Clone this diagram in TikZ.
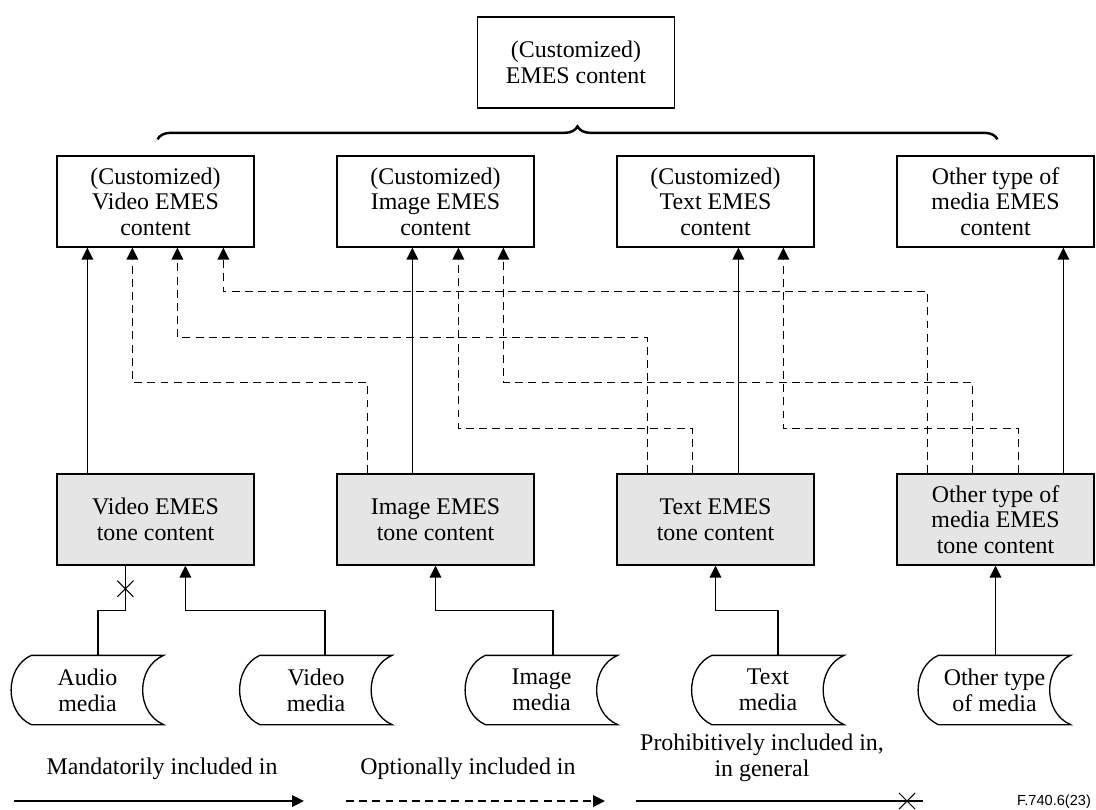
\documentclass[tikz,border=0pt]{standalone}
\usepackage{fontspec}
\setmainfont{Liberation Serif}
\newfontfamily\figfont{Liberation Sans}
\usetikzlibrary{calc,arrows.meta,decorations.pathreplacing,shapes.misc}

\begin{document}
\begin{tikzpicture}[x=0.02cm, y=-0.02cm, line width=0.75pt,
    font=\fontsize{13.6}{14.6}\selectfont,
    cbox/.style={draw, align=center, minimum width=3.94cm, minimum height=1.82cm, inner sep=1pt},
    tbox/.style={cbox, fill=black!10},
    media/.style={align=center, minimum width=3.02cm, minimum height=1.36cm, inner sep=0pt},
    must/.style={-{Triangle[length=6.8pt,width=6.6pt]}},
    opt/.style={must, dash pattern=on 4.5pt off 3pt},
    nox/.style={draw, cross out, minimum size=0.3cm, inner sep=0pt, line width=0.6pt}]
\useasboundingbox (0,0) rectangle (1096,809);

% --- Whole content and brace ---
\node[cbox] (top) at (576,62.5) {(Customized)\\EMES content};
\node[cbox] (vcont) at (155.5,201.5) {(Customized)\\Video EMES\\content};
\node[cbox] (icont) at (435.5,201.5) {(Customized)\\Image EMES\\content};
\node[cbox] (tcont) at (715.5,201.5) {(Customized)\\Text EMES\\content};
\node[cbox] (ocont) at (995.5,201.5) {Other type of\\media EMES\\content};
\draw[decorate, decoration={brace, amplitude=7.4pt}, line width=1.4pt]
    ($(vcont.north)+(2,-16)$) -- ($(ocont.north)+(2,-16)$);

% --- Tone content (grey) ---
\node[tbox] (vtone) at (155.5,519.5) {Video EMES\\tone content};
\node[tbox] (itone) at (435.5,519.5) {Image EMES\\tone content};
\node[tbox] (ttone) at (715.5,519.5) {Text EMES\\tone content};
\node[tbox] (otone) at (995.5,519.5) {Other type of\\media EMES\\tone content};

% --- Media ---
\node[media] (amedia) at (87.5,690) {Audio\\media};
\node[media] (vmedia) at (316,690) {Video\\media};
\node[media] (imedia) at (541.5,690) {Image\\media};
\node[media] (tmedia) at (768,690) {Text\\media};
\node[media] (omedia) at (994.5,690) {Other type\\of media};
\foreach \m in {amedia,vmedia,imedia,tmedia,omedia}
    \draw ($(\m.north west)+(20,0)$) -- (\m.north east)
        .. controls ($(\m.north east)+(-28,12)$) and ($(\m.south east)+(-28,-12)$) .. (\m.south east)
        -- ($(\m.south west)+(20,0)$)
        .. controls ($(\m.south west)+(-7,-12)$) and ($(\m.north west)+(-7,12)$) .. cycle;

% --- Mandatory links ---
\foreach \s/\o in {v/31, i/76, t/122, o/167}
    \draw[must] ($(\s tone.north west)+(\o,0)$) -- ($(\s cont.south west)+(\o,0)$);

% --- Optional links ---
\draw[opt] ($(itone.north west)+(31,0)$) -- ++(0,-91) -| ($(vcont.south west)+(76,0)$);
\draw[opt] ($(ttone.north west)+(31,0)$) -- ++(0,-136) -| ($(vcont.south west)+(121,0)$);
\draw[opt] ($(otone.north west)+(31,0)$) -- ++(0,-182) -| ($(vcont.south west)+(167,0)$);
\draw[opt] ($(ttone.north west)+(76,0)$) -- ++(0,-45) -| ($(icont.south west)+(122,0)$);
\draw[opt] ($(otone.north west)+(76,0)$) -- ++(0,-91) -| ($(icont.south west)+(167,0)$);
\draw[opt] ($(otone.north west)+(122,0)$) -- ++(0,-45) -| ($(tcont.south west)+(167,0)$);

% --- Media into tone content ---
\draw ($(amedia.north)+(10.5,0)$) -- ++(0,-45) -| ($(vtone.south west)+(69,0)$);
\node[nox] (ax) at ($(vtone.south west)+(69,23)$) {};
\draw[must] ($(vmedia.north)+(9,0)$) -- ++(0,-45) -| ($(vtone.south west)+(129,0)$);
\draw[must] ($(imedia.north)+(11.5,0)$) -- ++(0,-45) -| (itone.south);
\draw[must] ($(tmedia.north)+(10,0)$) -- ++(0,-45) -| (ttone.south);
\draw[must] (omedia.north -| otone.south) -- (otone.south);

% --- Legend ---
\coordinate (m1) at (14,801);  \coordinate (m2) at (304,801);
\coordinate (o1) at (346,801); \coordinate (o2) at (605,801);
\coordinate (p1) at (636,801); \coordinate (p2) at (923,801);
\draw[must] (m1) -- (m2);
\draw[opt] (o1) -- (o2);
\draw (p1) -- (p2);
\node[nox] (px) at (907,801) {};
\node (mtext) at (162,769) {Mandatorily included in};
\node (otext) at (468,769) {Optionally included in};
\node[align=center] (ptext) at (762,758) {Prohibitively included in,\\in general};
\node[font=\figfont\fontsize{8.3}{10}\selectfont] (fig) at (1054,802) {F.740.6(23)};
\end{tikzpicture}
\end{document}
